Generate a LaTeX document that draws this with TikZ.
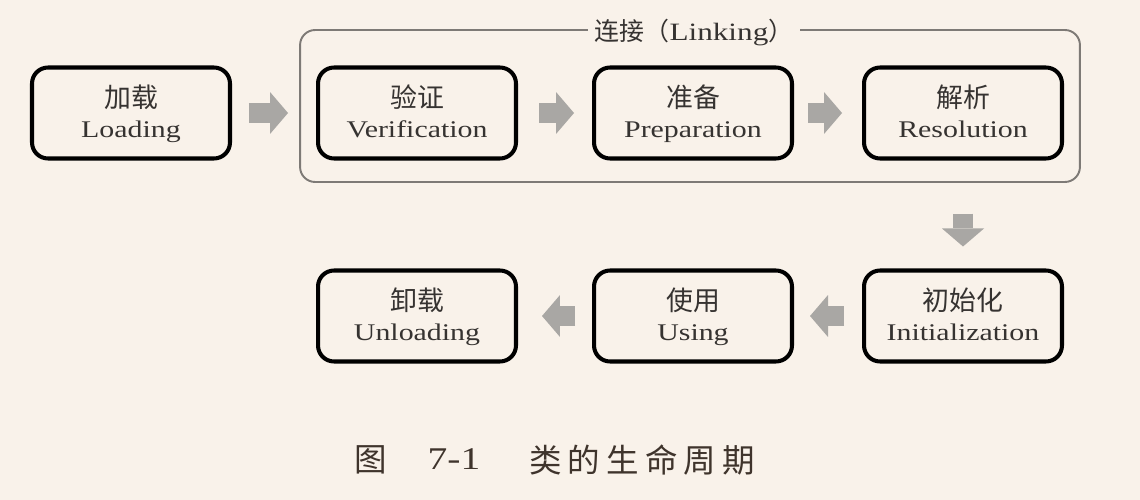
\documentclass[tikz,border=0pt]{standalone}
\usepackage{fontspec}
\setmainfont{Liberation Serif}[FakeStretch=1.25]
\newfontfamily\zh{Noto Sans CJK SC}
\usetikzlibrary{arrows.meta}
\definecolor{bg}{HTML}{F9F2EA}
\definecolor{ink}{HTML}{363331}
\definecolor{cap}{HTML}{3F342C}
\definecolor{arr}{HTML}{A9A7A4}
\definecolor{frm}{HTML}{7E7A76}
\newcommand{\zhl}[1]{{\zh\fontsize{15.3}{18}\selectfont #1}\strut\rule{0pt}{16pt}}
\newcommand{\enl}[1]{#1\strut}
\tikzset{
  stage/.style={draw=black, line width=2.3pt, rounded corners=0.32cm, fill=bg,
    minimum width=3.96cm, minimum height=1.82cm, inner sep=0pt, align=center,
    text=ink, font=\fontsize{13.6}{17.5}\selectfont},
  blk/.style={draw=arr, line width=0.4cm, line cap=butt,
    -{Triangle[width=0.84cm, length=0.36cm, line width=0pt]}},
  linkframe/.style={draw=frm, line width=1.1pt, rounded corners=0.3cm,
    minimum width=15.6cm, minimum height=3.04cm, inner sep=0pt},
}
\begin{document}
\begin{tikzpicture}[x=0.02cm, y=-0.02cm]
\useasboundingbox[fill=bg] (0,0) rectangle (1140,500);

% linking frame
\node[linkframe] (link) at (690,106) {};
\node[fill=bg, text=ink, inner xsep=4pt, inner ysep=2pt, font=\fontsize{14.2}{16}\selectfont]
  (linklabel) at (694,33) {{\zh 连接（}Linking{\zh ）}};

% stages
\node[stage] (load)  at (131,113) {\zhl{加载}\\\enl{Loading}};
\node[stage] (verif) at (417,113) {\zhl{验证}\\\enl{Verification}};
\node[stage] (prep)  at (693,113) {\zhl{准备}\\\enl{Preparation}};
\node[stage] (res)   at (963,113) {\zhl{解析}\\\enl{Resolution}};
\node[stage] (init)  at (963,316) {\zhl{初始化}\\\enl{Initialization}};
\node[stage] (use)   at (693,316) {\zhl{使用}\\\enl{Using}};
\node[stage] (unload) at (417,316) {\zhl{卸载}\\\enl{Unloading}};

% block arrows
\draw[blk, shorten <=0.34cm, shorten >=0.56cm] (load.east) -- (verif.west);
\draw[blk, shorten <=0.42cm, shorten >=0.36cm] (verif.east) -- (prep.west);
\draw[blk, shorten <=0.28cm, shorten >=0.4cm] (prep.east) -- (res.west);
\draw[blk, shorten <=1.06cm, shorten >=0.44cm] (res.south) -- (init.north);
\draw[blk, shorten <=0.36cm, shorten >=0.32cm] (init.west) -- (use.east);
\draw[blk, shorten <=0.34cm, shorten >=0.48cm] (use.west) -- (unload.east);

% caption
\node[text=cap, font=\fontsize{18.5}{20}\selectfont] (capfig) at (371,460) {\zh 图};
\node[text=cap, font=\fontsize{18}{20}\selectfont] (capnum) at (454,459) {7-1};
\node[text=cap, font=\fontsize{18.5}{20}\selectfont] (captitle) at (642,460)
  {\zh\addfontfeature{LetterSpace=19}类的生命周期};
\end{tikzpicture}
\end{document}
